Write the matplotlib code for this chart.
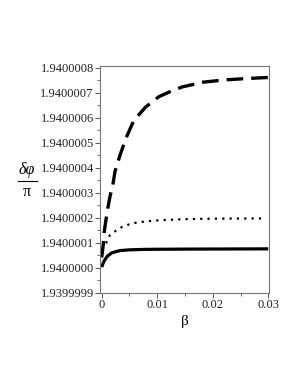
import matplotlib
matplotlib.use("Agg")
import matplotlib.pyplot as plt
from matplotlib.lines import Line2D
from matplotlib.ticker import FixedLocator, FixedFormatter

plt.rcParams['font.family'] = ['Liberation Serif', 'DejaVu Serif']

# Data (beta, delta-phi / pi)
solid_beta = [0.0, 0.0004, 0.001, 0.0018, 0.0033, 0.005, 0.008, 0.015, 0.03]
solid_val = [1.940000002, 1.940000025, 1.940000045, 1.940000059, 1.940000068,
             1.940000071, 1.940000073, 1.940000074, 1.940000075]

dotted_beta = [0.0008, 0.0012, 0.0015, 0.0024, 0.0036, 0.0048, 0.006, 0.0072,
               0.009, 0.0108, 0.0147, 0.02, 0.025, 0.029]
dotted_val = [1.940000097, 1.940000120, 1.940000130, 1.940000145, 1.940000162,
              1.940000172, 1.940000179, 1.940000183, 1.940000187, 1.940000190,
              1.940000194, 1.940000196, 1.9400001965, 1.940000197]

dashed_beta = [0.0, 0.0003, 0.0005, 0.001, 0.0015, 0.002, 0.0024, 0.0033, 0.0044,
               0.0058, 0.0079, 0.0103, 0.0125, 0.0145, 0.0182, 0.022, 0.0255,
               0.029, 0.03]
dashed_val = [1.940000040, 1.940000095, 1.940000150, 1.940000225, 1.940000285,
              1.940000330, 1.940000385, 1.940000450, 1.940000520, 1.940000590,
              1.940000643, 1.940000685, 1.940000707, 1.940000724, 1.940000743,
              1.940000752, 1.940000757, 1.940000761, 1.940000762]

y_ticks = [1.9399999, 1.9400000, 1.9400001, 1.9400002, 1.9400003, 1.9400004,
           1.9400005, 1.9400006, 1.9400007, 1.9400008]
y_tick_labels = ["1.9399999", "1.9400000", "1.9400001", "1.9400002", "1.9400003",
                 "1.9400004", "1.9400005", "1.9400006", "1.9400007", "1.9400008"]
x_ticks = [0.0, 0.01, 0.02, 0.03]
x_tick_labels = ["0", "0.01", "0.02", "0.03"]

fig = plt.figure(figsize=(3.0, 3.88), dpi=100)
ax = fig.add_axes([100/300, 1-293/388, 169/300, (293-66)/388])

ax.plot(solid_beta, solid_val, color='black', lw=2.3, solid_capstyle='butt')
ax.plot(dotted_beta, dotted_val, color='black', lw=1.6, linestyle=(0, (1, 2.3)))
ax.plot(dashed_beta, dashed_val, color='black', lw=2.4, linestyle=(0, (5, 2.4)),
        dash_capstyle='butt')

ax.set_xlim(-0.0003, 0.03013)
ax.set_ylim(1.94 - 1.02e-7, 1.94 + 8.08e-7)

ax.yaxis.set_major_locator(FixedLocator(y_ticks))
ax.yaxis.set_major_formatter(FixedFormatter(y_tick_labels))
ax.yaxis.set_minor_locator(FixedLocator([v + 0.5e-7 for v in y_ticks[:-1]]))
ax.xaxis.set_major_locator(FixedLocator(x_ticks))
ax.xaxis.set_major_formatter(FixedFormatter(x_tick_labels))
ax.xaxis.set_minor_locator(FixedLocator([0.005, 0.015, 0.025]))

for s in ax.spines.values():
    s.set_color('#777777')
    s.set_linewidth(0.8)
ax.tick_params(which='major', direction='out', length=3.5, width=0.7,
               color='#555555', labelsize=9, labelcolor='#222222', pad=1)
ax.tick_params(which='minor', direction='out', length=2, width=0.6, color='#555555')

ax.set_xlabel('β', fontsize=11, labelpad=3)

# y label as fraction
fig.text(27/300, 1-170/388, 'δφ', ha='center', va='center', fontsize=11.5,
         style='italic')
fig.text(27/300, 1-192/388, 'π', ha='center', va='center', fontsize=11.5)
fig.add_artist(Line2D([18/300, 37/300], [1-181/388, 1-181/388], color='black', lw=0.8))

fig.savefig('out.png', dpi=100)
